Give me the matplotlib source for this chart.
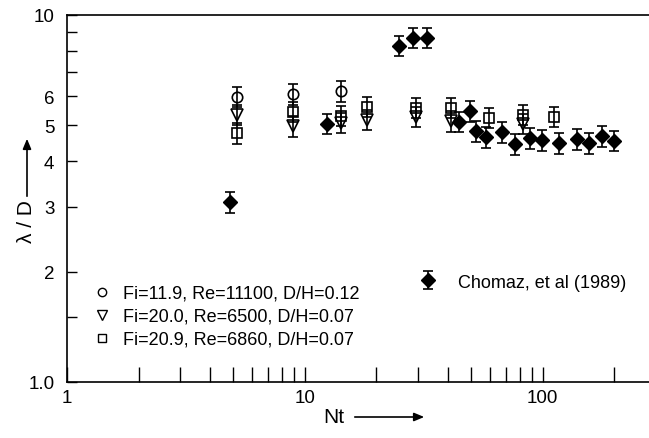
import matplotlib
matplotlib.use("Agg")
import matplotlib.pyplot as plt
from matplotlib.lines import Line2D

# ---- data ----
circle_nt = [5.2, 8.9, 14.2]
circle_val = [5.98, 6.09, 6.21]
circle_err = [0.38, 0.40, 0.40]

tri_nt = [5.2, 8.9, 14.2, 18.2, 29.3, 41.1, 82.4]
tri_val = [5.34, 4.98, 5.08, 5.18, 5.27, 5.14, 5.05]
tri_err = [0.33, 0.32, 0.32, 0.33, 0.33, 0.33, 0.32]

sq_nt = [5.2, 8.9, 14.2, 18.2, 29.3, 41.1, 59.3, 82.4, 111.2]
sq_val = [4.77, 5.44, 5.31, 5.61, 5.58, 5.58, 5.24, 5.34, 5.27]
sq_err = [0.32, 0.34, 0.33, 0.35, 0.35, 0.35, 0.33, 0.34, 0.33]

dia_nt = [4.84, 12.4, 24.8, 28.4, 32.5, 44.4, 49.4, 52.3, 57.6, 67.2,
          76.3, 88.2, 99.0, 116.8, 139.0, 156.1, 177.0, 198.8]
dia_val = [3.09, 5.05, 8.23, 8.66, 8.66, 5.11, 5.47, 4.83, 4.65, 4.80,
           4.45, 4.62, 4.56, 4.48, 4.59, 4.48, 4.68, 4.54]
dia_err = [0.21, 0.32, 0.52, 0.55, 0.55, 0.32, 0.35, 0.31, 0.30, 0.31,
           0.29, 0.30, 0.29, 0.29, 0.30, 0.29, 0.30, 0.29]

labels = ["Fi=11.9, Re=11100, D/H=0.12",
          "Fi=20.0, Re=6500, D/H=0.07",
          "Fi=20.9, Re=6860, D/H=0.07"]
chomaz_label = "Chomaz, et al (1989)"

x_major = [1, 10, 100]
x_major_labels = ["1", "10", "100"]
x_minor = [2, 3, 4, 5, 6, 7, 8, 9, 20, 30, 40, 50, 60, 70, 80, 90, 200]
y_major = [1, 2, 3, 4, 5, 6, 10]
y_major_labels = ["1.0", "2", "3", "4", "5", "6", "10"]
y_minor = [1.5, 7, 8, 9]

plt.rcParams['font.family'] = ['Liberation Sans', 'DejaVu Sans']

fig = plt.figure(figsize=(6.49, 4.39), dpi=100)
ax = fig.add_axes([67/649, 56/439, 582/649, 367/439])

ekw = dict(ls='none', ecolor='black', elinewidth=1.2, capsize=3.3, capthick=1.2)

dia = ax.errorbar(dia_nt, dia_val, yerr=dia_err, marker='D', ms=7.5,
                  mfc='black', mec='black', **ekw)
ax.errorbar(circle_nt, circle_val, yerr=circle_err, marker='o', ms=7.5,
            mfc='none', mec='black', mew=1.2, **ekw)
ax.errorbar(tri_nt, tri_val, yerr=tri_err, marker='v', ms=8.5,
            mfc='none', mec='black', mew=1.2, **ekw)
ax.errorbar(sq_nt, sq_val, yerr=sq_err, marker='s', ms=7,
            mfc='none', mec='black', mew=1.2, **ekw)

ax.set_xscale('log')
ax.set_yscale('log')
ax.set_xlim(1, 280)
ax.set_ylim(1, 10)

ax.set_xticks(x_major)
ax.set_xticklabels(x_major_labels)
ax.set_xticks(x_minor, minor=True)
ax.set_xticklabels([], minor=True)
ax.set_yticks(y_major)
ax.set_yticklabels(y_major_labels)
ax.set_yticks(y_minor, minor=True)
ax.set_yticklabels([], minor=True)

ax.tick_params(axis='x', which='both', direction='in', length=11, width=1,
               labelsize=13.5, pad=5)
ax.tick_params(axis='y', which='both', direction='in', length=7, width=1,
               labelsize=13.5, pad=9)

for s in ['left', 'bottom', 'top']:
    ax.spines[s].set_linewidth(1.2)
ax.spines['right'].set_visible(False)

# legends
h = [Line2D([], [], marker='o', ls='none', mfc='none', mec='black', ms=6, mew=1.0),
     Line2D([], [], marker='v', ls='none', mfc='none', mec='black', ms=6.5, mew=1.0),
     Line2D([], [], marker='s', ls='none', mfc='none', mec='black', ms=5.5, mew=1.0)]
leg1 = ax.legend(h, labels, loc='lower left', bbox_to_anchor=(0.045, 0.093),
                 frameon=False, fontsize=13, handlelength=1.0, handletextpad=0.67,
                 labelspacing=0.33, borderpad=0, borderaxespad=0)
ax.add_artist(leg1)
ax.legend([dia], [chomaz_label], loc='lower left', bbox_to_anchor=(0.605, 0.249),
          frameon=False, fontsize=13, handlelength=1.0, handletextpad=1.17,
          borderpad=0, borderaxespad=0)

# axis labels with arrows
fig.text(27/649, 1 - 222/439, "λ / D", rotation=90, ha='center', va='center',
         fontsize=15)
fig.add_artist(matplotlib.patches.FancyArrowPatch(
    (27/649, 1 - 200/439), (27/649, 1 - 137/439), transform=fig.transFigure,
    arrowstyle='-|>,head_length=6,head_width=2.5', color='black', lw=1.2))
fig.text(334/649, 1 - 418/439, "Nt", ha='center', va='center', fontsize=15)
fig.add_artist(matplotlib.patches.FancyArrowPatch(
    (352/649, 1 - 418/439), (427/649, 1 - 418/439), transform=fig.transFigure,
    arrowstyle='-|>,head_length=6,head_width=2.5', color='black', lw=1.2))

fig.savefig("out.png", dpi=100)
